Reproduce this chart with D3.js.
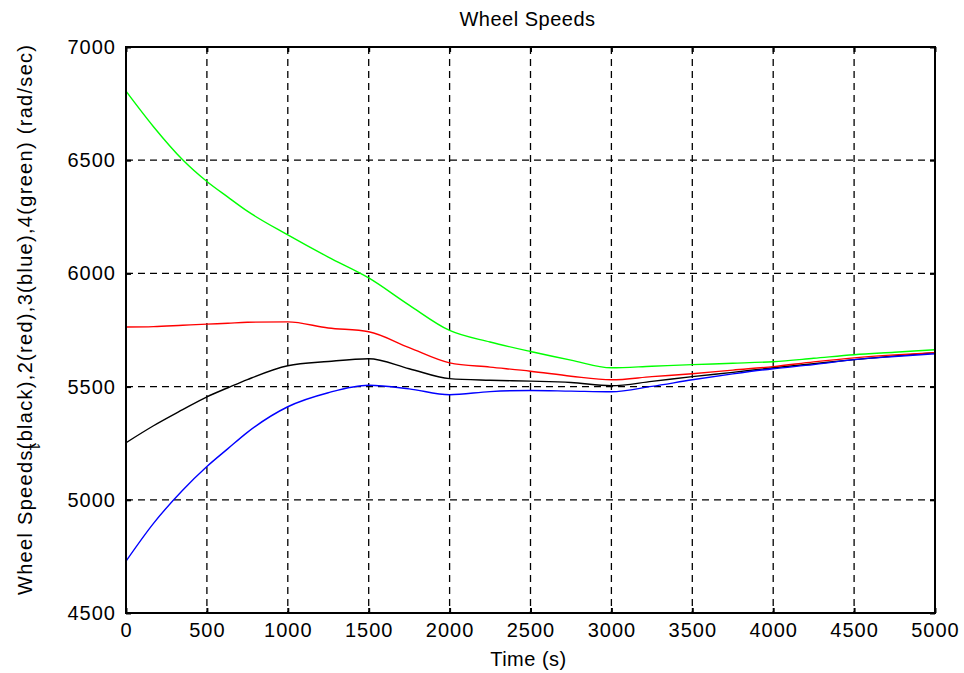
<!DOCTYPE html>
<html><head><meta charset="utf-8">
<script src="https://cdn.jsdelivr.net/npm/d3@7"></script>
<style>
html,body{margin:0;padding:0;background:#fff;}
svg{display:block;font-family:"Liberation Sans",Arial,sans-serif;}
</style></head><body>
<svg id="c" width="964" height="673"></svg>
<script>
const time = [0,170,350,500,630,750,1000,1250,1500,1750,2000,2250,2500,2750,3000,3250,3500,3750,4000,4250,4500,4750,5000];
const wheel1Black = [5252,5327,5398,5455,5495,5531,5592,5611,5623,5579,5535,5528,5524,5518,5504,5523,5544,5563,5583,5601,5619,5635,5650];
const wheel2Red   = [5763,5765,5771,5776,5780,5784,5786,5759,5742,5672,5605,5586,5568,5546,5530,5544,5557,5573,5588,5609,5627,5640,5650];
const wheel3Blue  = [4729,4896,5042,5147,5226,5298,5411,5473,5506,5490,5464,5478,5483,5480,5477,5501,5530,5556,5579,5597,5619,5633,5645];
const wheel4Green = [6805,6648,6502,6406,6337,6275,6170,6072,5980,5860,5748,5697,5655,5617,5583,5590,5597,5603,5610,5625,5641,5652,5663];
const xTicks = [0,500,1000,1500,2000,2500,3000,3500,4000,4500,5000];
const yTicks = [4500,5000,5500,6000,6500,7000];
const seriesColors = ["#000000","#ff0000","#0000ff","#00ff00"];
const titleText = "Wheel Speeds";
const xLabel = "Time (s)";
const yLabel = "Wheel Speeds(black),2(red),3(blue),4(green) (rad/sec)";

const svg = d3.select("#c");
const L=126, R=935, T=47, B=613;
const x = d3.scaleLinear().domain([0,5000]).range([L,R]);
const y = d3.scaleLinear().domain([4500,7000]).range([B,T]);
const fs = 20;

// grid
const g = svg.append("g");
g.selectAll("line.gx").data(xTicks.slice(1,-1)).join("line")
  .attr("x1",d=>x(d)).attr("x2",d=>x(d)).attr("y1",T).attr("y2",B)
  .attr("stroke","#000").attr("stroke-width",1.3).attr("stroke-dasharray","7,5");
g.selectAll("line.gy").data(yTicks.slice(1,-1)).join("line")
  .attr("y1",d=>y(d)).attr("y2",d=>y(d)).attr("x1",L).attr("x2",R)
  .attr("stroke","#000").attr("stroke-width",1.3).attr("stroke-dasharray","7,5");

// lines
const series = [wheel1Black, wheel2Red, wheel3Blue, wheel4Green];
const line = d3.line().x((d,i)=>x(time[i])).y(d=>y(d)).curve(d3.curveMonotoneX);
svg.append("defs").append("clipPath").attr("id","clp").append("rect")
  .attr("x",L).attr("y",T).attr("width",R-L).attr("height",B-T);
const lg = svg.append("g").attr("clip-path","url(#clp)");
series.forEach((s,k)=>{
  lg.append("path").attr("d",line(s)).attr("fill","none")
    .attr("stroke",seriesColors[k]).attr("stroke-width",1.4);
});

// axes with inward ticks
const xb = d3.axisBottom(x).tickValues(xTicks).tickSize(-5).tickPadding(10).tickFormat(d3.format("d"));
const xt = d3.axisTop(x).tickValues(xTicks).tickSize(-5).tickFormat("");
const yl = d3.axisLeft(y).tickValues(yTicks).tickSize(-5).tickPadding(10).tickFormat(d3.format("d"));
const yr = d3.axisRight(y).tickValues(yTicks).tickSize(-5).tickFormat("");
function style(sel){
  sel.select(".domain").remove();
  sel.selectAll(".tick line").attr("stroke","#000").attr("stroke-width",2);
  sel.selectAll(".tick text").attr("fill","#000").attr("font-size",fs)
     .attr("font-family","Liberation Sans, Arial, sans-serif").style("letter-spacing","1px");
}
svg.append("g").attr("transform",`translate(0,${B})`).call(xb).call(style)
  .selectAll(".tick text").attr("dy","0.71em");
svg.append("g").attr("transform",`translate(0,${T})`).call(xt).call(style);
svg.append("g").attr("transform",`translate(${L},0)`).call(yl).call(style);
svg.append("g").attr("transform",`translate(${R},0)`).call(yr).call(style);

// box
svg.append("rect").attr("x",L).attr("y",T).attr("width",R-L).attr("height",B-T)
  .attr("fill","none").attr("stroke","#000").attr("stroke-width",2);

// titles
svg.append("text").attr("x",(L+R)/2-3).attr("y",26).attr("text-anchor","middle")
  .attr("font-size",fs).attr("fill","#000").style("letter-spacing","0.5px").text(titleText);
svg.append("text").attr("x",(L+R)/2-2).attr("y",666).attr("text-anchor","middle")
  .attr("font-size",fs).attr("fill","#000").style("letter-spacing","0.5px").text(xLabel);
svg.append("text").attr("transform","translate(32,595) rotate(-90)").attr("text-anchor","start")
  .attr("font-size",fs).attr("fill","#000").style("letter-spacing","1.3px").text(yLabel);
svg.append("text").attr("transform","translate(30,447) rotate(90)").attr("text-anchor","middle")
  .attr("font-size",14).attr("fill","#000").text("1");
</script>
</body></html>
